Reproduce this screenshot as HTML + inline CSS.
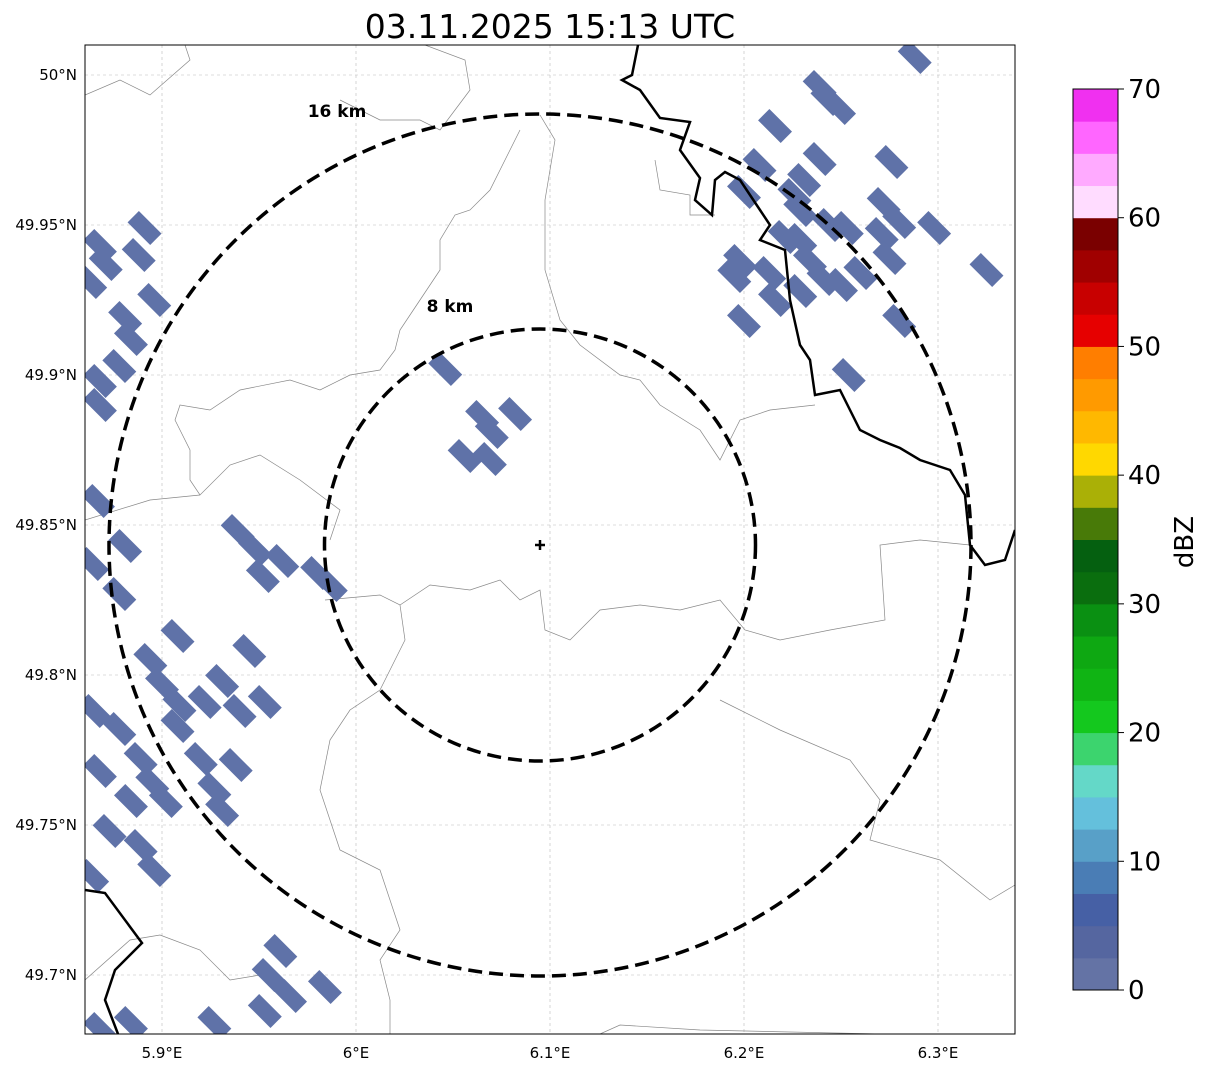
<!DOCTYPE html>
<html><head><meta charset="utf-8"><style>
body{margin:0;background:#fff;width:1207px;height:1069px;overflow:hidden;font-family:"DejaVu Sans","Liberation Sans",sans-serif}
</style></head><body>
<svg id="chart" width="1207" height="1069" xmlns="http://www.w3.org/2000/svg" font-family="DejaVu Sans, Liberation Sans, sans-serif">
<defs><clipPath id="axclip"><rect x="85" y="45" width="930" height="989"/></clipPath></defs>
<text x="550" y="38" font-size="33" text-anchor="middle" fill="#000">03.11.2025 15:13 UTC</text>
<g id="grid"></g>
<g clip-path="url(#axclip)">
<g id="borders" fill="none" stroke="#888" stroke-width="0.7"></g>
<g id="echoes"></g>
<g id="rivers" fill="none" stroke="#000" stroke-width="2.5"></g>
<ellipse cx="540" cy="545" rx="431" ry="431" fill="none" stroke="#000" stroke-width="3.5" stroke-dasharray="14,7"/>
<ellipse cx="540" cy="545" rx="215.5" ry="216" fill="none" stroke="#000" stroke-width="3.5" stroke-dasharray="14,7"/>
</g>
<text x="337" y="117" font-size="17" font-weight="bold" text-anchor="middle">16 km</text>
<text x="450" y="312" font-size="17" font-weight="bold" text-anchor="middle">8 km</text>
<g stroke="#000" stroke-width="2.5"><line x1="535" y1="545" x2="545" y2="545"/><line x1="540" y1="540" x2="540" y2="550"/></g>
<rect x="85" y="45" width="930" height="989" fill="none" stroke="#000" stroke-width="1"/>
<g id="ticks" font-size="15"></g>
<g id="cbar"></g>
<text x="1193" y="542" font-size="26" text-anchor="middle" transform="rotate(-90 1193 542)">dBZ</text>
</svg>
<script>
const NS='http://www.w3.org/2000/svg';
const lonTicks=[5.9,6.0,6.1,6.2,6.3];
const lonLabels=['5.9°E','6°E','6.1°E','6.2°E','6.3°E'];
const latTicks=[50.0,49.95,49.9,49.85,49.8,49.75,49.7];
const latLabels=['50°N','49.95°N','49.9°N','49.85°N','49.8°N','49.75°N','49.7°N'];
const echoLon=[6.243,6.249,6.216,6.208,6.239,6.231,6.226,6.229,6.276,6.272,6.280,6.298,6.200,6.198,6.195,6.213,6.221,6.229,6.234,6.241,6.250,6.229,6.244,6.253,6.271,6.275,6.260,6.216,6.280,6.200,6.254,6.325,6.288,6.239,
6.046,6.070,6.065,6.082,6.056,6.069,
5.891,5.868,5.871,5.888,5.896,5.881,5.884,5.868,5.878,5.863,5.868,5.867,5.881,5.864,5.878,5.939,5.948,5.952,5.962,5.980,5.987,5.908,5.894,5.945,5.931,5.922,5.940,5.953,5.900,5.909,5.908,5.878,5.889,5.895,5.902,5.884,5.873,5.868,5.865,5.920,5.927,5.938,5.931,5.896,5.889,5.864,5.961,5.955,5.966,5.984,5.953,5.884,5.927,5.868];
const echoLat=[49.992,49.989,49.983,49.970,49.972,49.965,49.960,49.955,49.971,49.957,49.951,49.949,49.961,49.938,49.933,49.934,49.946,49.945,49.938,49.932,49.930,49.928,49.950,49.949,49.947,49.939,49.934,49.925,49.918,49.918,49.900,49.935,50.006,49.996,
49.902,49.881,49.886,49.887,49.873,49.872,
49.949,49.943,49.937,49.940,49.925,49.919,49.912,49.898,49.903,49.931,49.890,49.858,49.843,49.837,49.827,49.848,49.842,49.833,49.838,49.834,49.830,49.813,49.805,49.808,49.798,49.791,49.788,49.791,49.797,49.790,49.783,49.782,49.772,49.764,49.758,49.758,49.748,49.768,49.788,49.772,49.762,49.770,49.755,49.735,49.743,49.733,49.708,49.700,49.693,49.696,49.688,49.684,49.684,49.682];
const cbarColors=['#6473a5','#5566a0','#4660a5','#4a7db5','#58a0c8','#64c0dc','#64d8c8','#3cd46e','#14c81e','#10b414','#0ea812','#0a9012','#0a6e0e','#056010','#487a08','#aab006','#ffd800','#ffb800','#ff9a00','#ff7e00','#e60000','#c80000','#a00000','#7a0000','#ffdcff','#ffaaff','#ff66ff','#f030f0'];
const cbarTicks=[0,10,20,30,40,50,60,70];
const X=lon=>162+(lon-5.9)*1940;
const Y=lat=>75+(50-lat)*3000;
const CB=v=>990-v*(901/70);
function mk(tag,attrs,parent){const e=document.createElementNS(NS,tag);for(const k in attrs)e.setAttribute(k,attrs[k]);parent.appendChild(e);return e;}
const grid=document.getElementById('grid'),ticks=document.getElementById('ticks');
lonTicks.forEach((v,i)=>{
 const l=mk('line',{x1:X(v),x2:X(v),y1:45,y2:1034,stroke:'#bbb','stroke-width':0.6,'stroke-dasharray':'3,3'},grid);
 
 
 const t=mk('text',{x:X(v),y:1058,'text-anchor':'middle'},ticks);t.textContent=lonLabels[i];
 
 
});
latTicks.forEach((v,i)=>{
 const l=mk('line',{x1:85,x2:1015,y1:Y(v),y2:Y(v),stroke:'#bbb','stroke-width':0.6,'stroke-dasharray':'3,3'},grid);
 
 
 const t=mk('text',{x:77,y:Y(v)+5,'text-anchor':'end'},ticks);t.textContent=latLabels[i];
 
 
});
const borders=document.getElementById('borders');
[[[85,95],[120,80],[150,95],[190,60],[185,45]],
[[425,45],[465,60],[470,90],[455,110],[440,130],[420,120],[380,120],[340,100]],
[[325,600],[380,595],[400,605],[430,585],[470,590],[500,580],[520,600],[540,590],[545,630],[570,640],[600,610],[640,605],[680,610],[720,600],[745,630],[780,640],[830,630],[885,620],[880,545],[920,540],[970,545]],
[[540,115],[555,140],[545,200],[545,270],[560,320],[580,345],[620,375],[640,380],[660,405],[700,430],[720,460],[740,420],[770,410],[815,405]],
[[520,130],[490,190],[470,210],[455,215],[440,240],[440,270],[420,300],[400,330],[395,350],[380,370],[350,375],[320,390],[290,380],[240,390],[210,410],[180,405],[175,420],[190,450],[190,480],[200,495],[230,465],[260,455],[300,480],[340,510],[330,540]],
[[85,520],[150,500],[200,495]],
[[400,605],[405,640],[380,690],[350,710],[330,740],[320,790],[330,820],[340,850],[380,870],[400,930],[380,960],[390,1000],[390,1034]],
[[85,980],[130,940],[160,935],[200,950],[230,980],[260,975]],
[[600,1034],[620,1025],[700,1030],[880,1034]],
[[720,700],[780,730],[850,760],[880,800],[870,840],[940,860],[990,900],[1015,885]],
[[655,160],[660,190],[690,195],[690,215],[715,215]]
].forEach(p=>{const e=mk('polyline',{points:p.map(q=>q.join(',')).join(' ')},borders);
 
 });
const rivers=document.getElementById('rivers');
[[[638,45],[632,75],[622,80],[640,90],[660,118],[690,122],[680,150],[700,178],[695,200],[712,215],[715,180],[725,172],[740,180],[760,210],[770,225],[760,240],[785,250],[790,300],[800,345],[810,360],[815,395],[840,390],[860,430],[880,440],[900,448],[920,460],[950,470],[965,495],[970,545],[985,565],[1005,560],[1015,530]],
[[85,890],[105,893],[142,943],[115,970],[105,1000],[118,1034]]].forEach(p=>{const e=mk('polyline',{points:p.map(q=>q.join(',')).join(' ')},rivers);
 
 });
const echoes=document.getElementById('echoes');
echoLon.forEach((lon,i)=>{
 const x=X(lon),y=Y(echoLat[i]);
 const r=mk('rect',{x:x-16,y:y-8,width:32,height:16,fill:'#5f72a8',transform:`rotate(45 ${x} ${y})`},echoes);
 
 
});
const cbar=document.getElementById('cbar');
cbarColors.forEach((c,i)=>{
 const v0=i*2.5,v1=(i+1)*2.5;
 const r=mk('rect',{x:1073,y:CB(v1),width:45,height:CB(v0)-CB(v1)+0.5,fill:c},cbar);
 
 
});
mk('rect',{x:1073,y:89,width:45,height:901,fill:'none',stroke:'#000','stroke-width':1},cbar);
cbarTicks.forEach(v=>{
 mk('line',{x1:1118,x2:1124,y1:CB(v),y2:CB(v),stroke:'#000'},cbar);
 const t=mk('text',{x:1128,y:CB(v)+9,'font-size':26},cbar);t.textContent=v;
 
 
});
</script>
</body></html>
